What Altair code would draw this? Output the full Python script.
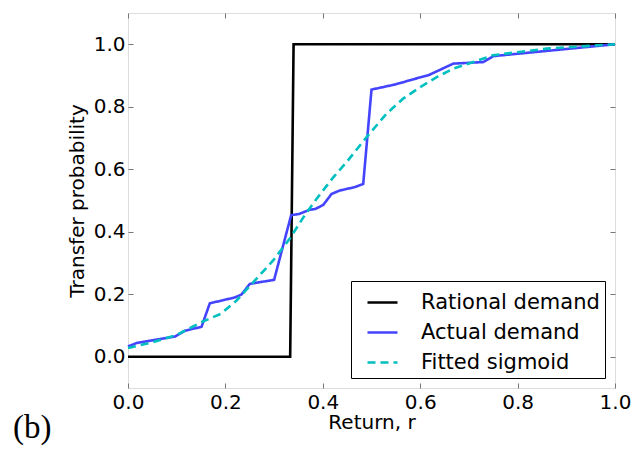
import altair as alt
import pandas as pd

series_names = ["Rational demand", "Actual demand", "Fitted sigmoid"]
series_colors = ["#000000", "#4444ff", "#00bfbf"]

rational_r = [0.0, 0.333, 0.340, 1.0]
rational_p = [0.0, 0.0, 1.0, 1.0]

actual_r = [0.0, 0.018, 0.097, 0.117, 0.151, 0.168, 0.22, 0.233, 0.25, 0.268, 0.30,
            0.335, 0.352, 0.372, 0.385, 0.401, 0.418, 0.435, 0.466, 0.483, 0.500,
            0.548, 0.586, 0.617, 0.668, 0.730, 0.750, 1.0]
actual_p = [0.033, 0.044, 0.065, 0.083, 0.096, 0.171, 0.19, 0.199, 0.233, 0.238, 0.246,
            0.453, 0.457, 0.470, 0.473, 0.486, 0.521, 0.532, 0.543, 0.553, 0.855,
            0.871, 0.888, 0.901, 0.938, 0.943, 0.962, 1.0]

fit_r = [0.0, 0.05, 0.1, 0.15, 0.19, 0.223, 0.257, 0.298, 0.333, 0.36, 0.387, 0.422,
         0.449, 0.49, 0.531, 0.565, 0.6, 0.634, 0.668, 0.709, 0.75, 0.86, 1.0]
fit_p = [0.028, 0.046, 0.07, 0.11, 0.137, 0.18, 0.238, 0.308, 0.38, 0.446, 0.505, 0.575,
         0.623, 0.703, 0.778, 0.826, 0.863, 0.895, 0.922, 0.943, 0.965, 0.986, 1.0]

tick_values = [0.0, 0.2, 0.4, 0.6, 0.8, 1.0]

rows = []
for name, rs, ps in zip(series_names, [rational_r, actual_r, fit_r], [rational_p, actual_p, fit_p]):
    for i, (r, p) in enumerate(zip(rs, ps)):
        rows.append({"series": name, "r": r, "p": p, "idx": i})
df = pd.DataFrame(rows)

xscale = alt.Scale(domain=[0, 1], nice=False, zero=False)
yscale = alt.Scale(domain=[-0.1, 1.1], nice=False, zero=False)
FONT = "DejaVu Sans"
FS = 20

legend = alt.Legend(title=None, orient="bottom-right", offset=10, padding=5,
                    strokeColor="black", fillColor="white", labelFontSize=21,
                    labelFont=FONT, labelColor="black", symbolType="stroke",
                    symbolSize=900, symbolStrokeWidth=2.6, rowPadding=3,
                    symbolOffset=10, labelOffset=22, cornerRadius=0, labelLimit=400)

main = alt.Chart(df).mark_line(strokeWidth=2.6).encode(
    x=alt.X("r:Q", scale=xscale,
            axis=alt.Axis(values=tick_values, format=".1f", title="Return, r",
                          orient="bottom", offset=-5, tickSize=5, domain=False,
                          grid=False, labelPadding=4, labelFontSize=FS, labelFont=FONT,
                          labelColor="black", tickColor="#777", titleFont=FONT,
                          titleFontSize=FS, titleFontWeight="normal", titleColor="black",
                          titlePadding=0, labelFlush=False)),
    y=alt.Y("p:Q", scale=yscale,
            axis=alt.Axis(values=tick_values, format=".1f", title="Transfer probability",
                          orient="left", offset=-5, tickSize=5, domain=False,
                          grid=False, labelPadding=3, labelFontSize=FS, labelFont=FONT,
                          labelColor="black", tickColor="#777", titleFont=FONT,
                          titleFontSize=FS, titleFontWeight="normal", titleColor="black",
                          titlePadding=6, labelFlush=False)),
    color=alt.Color("series:N", scale=alt.Scale(domain=series_names, range=series_colors),
                    legend=legend),
    strokeDash=alt.StrokeDash("series:N",
                              scale=alt.Scale(domain=series_names,
                                              range=[[1, 0], [1, 0], [8, 5]]),
                              legend=legend),
    order="idx:Q",
)

ghost = alt.Chart(df).mark_line(strokeOpacity=0).encode(
    x=alt.X("r:Q", scale=xscale,
            axis=alt.Axis(values=tick_values, orient="top", offset=-5, tickSize=5,
                          domain=False, grid=False, labels=False, title=None,
                          tickColor="#777")),
    y=alt.Y("p:Q", scale=yscale,
            axis=alt.Axis(values=tick_values, orient="right", offset=-5, tickSize=5,
                          domain=False, grid=False, labels=False, title=None,
                          tickColor="#777")),
    detail="series:N",
    order="idx:Q",
)

chart = alt.layer(main, ghost).resolve_scale(x="independent", y="independent").properties(
    width=487,
    height=375,
    autosize=alt.AutoSizeParams(type="none"),
    padding={"left": 128, "top": 13, "right": 22, "bottom": 64},
    title=alt.TitleParams("(b)", orient="bottom", anchor="start", frame="group",
                          dx=-115, dy=-24, font="Liberation Serif", fontSize=33,
                          fontWeight="normal", color="black"),
).configure_view(stroke="#555", strokeWidth=1).configure(background="white")

chart.save("out.html", embed_options={"renderer": "svg", "actions": False})
